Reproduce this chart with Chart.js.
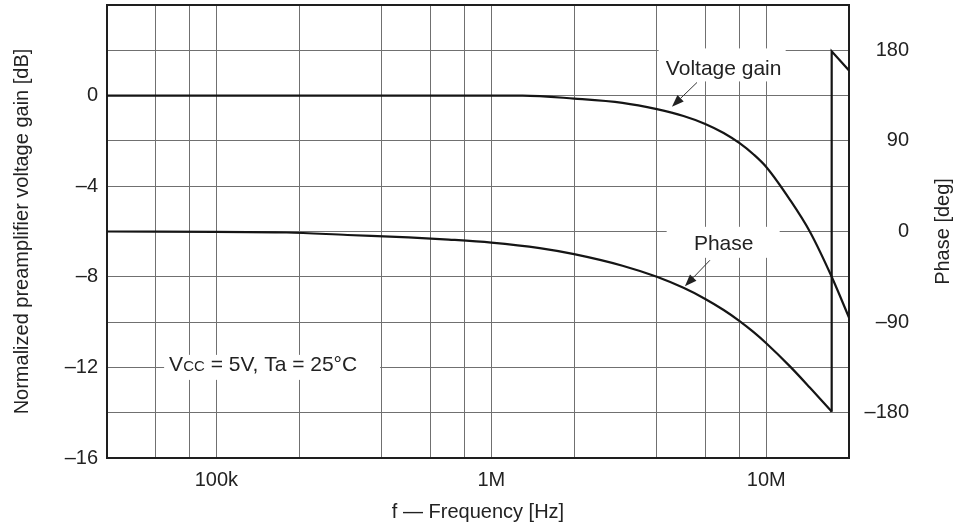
<!DOCTYPE html>
<html>
<head>
<meta charset="utf-8">
<script src="https://cdn.jsdelivr.net/npm/chart.js@4.4.1/dist/chart.umd.min.js"></script>
<style>
  html, body { margin: 0; padding: 0; background: #fff; }
  canvas { display: block; }
</style>
</head>
<body>
<canvas id="chart" width="960" height="530"></canvas>
<script>
// gain curve, normalized to the passband (dB)
const gainFreq = [4e4, 1.3e6, 2e6, 3e6, 4e6, 5e6, 6e6, 7e6, 8e6, 9e6, 1e7, 1.22e7, 1.44e7, 1.73e7, 2e7];
const gainDb   = [0, 0, -0.13, -0.32, -0.6, -0.9, -1.25, -1.65, -2.1, -2.6, -3.15, -4.6, -6.0, -8.0, -9.8];

// phase (deg), wraps from -180 to +180 near 17 MHz
const phaseFreq = [4e4, 1.8e5, 3e5, 5e5, 7e5, 1e6, 1.5e6, 2e6, 3e6, 4e6, 5e6, 6e6, 7e6, 8e6, 9e6, 1e7, 1.22e7, 1.44e7, 1.73e7];
const phaseDeg  = [0, -1, -3.5, -5.8, -8, -11, -16.5, -22.5, -34, -45, -56, -67, -78, -89, -100, -111, -134, -155, -179];
const wrapFreq  = [1.73e7, 1.73e7, 2e7];
const wrapDeg   = [-179, 179, 160];

// axes
const freqGrid   = [4e4, 6e4, 8e4, 1e5, 2e5, 4e5, 6e5, 8e5, 1e6, 2e6, 4e6, 6e6, 8e6, 1e7, 2e7];
const freqLabels = { 1e5: '100k', 1e6: '1M', 1e7: '10M' };
const gainGrid   = [4, 2, 0, -2, -4, -6, -8, -10, -12, -14, -16];
const gainLabels = [0, -4, -8, -12, -16];
const phaseTicks = [-180, -90, 0, 90, 180];

const FONT = '"Liberation Sans", Arial, Helvetica, sans-serif';
const INK = '#222';
const GRID = '#707070';

const dash = v => (v < 0 ? '\u2013' + Math.abs(v) : String(v));
const pts = (xs, ys) => xs.map((x, i) => ({ x, y: ys[i] }));

const callouts = [
  { text: 'Voltage gain', at: [7e6, 1.2], box: [-65, -20, 127, 33], tail: [5.6e6, 0.58], tip: [4.54e6, -0.49] },
  { text: 'Phase', at: [7e6, -6.5], box: [-57, -16, 113, 31], tail: [6.24e6, -7.27], tip: [5.06e6, -8.42] }
];

function arrow(ctx, x1, y1, x2, y2) {
  const a = Math.atan2(y2 - y1, x2 - x1);
  const len = 12, half = 4.5;
  const bx = x2 - len * Math.cos(a), by = y2 - len * Math.sin(a);
  ctx.beginPath();
  ctx.moveTo(x1, y1);
  ctx.lineTo(bx, by);
  ctx.stroke();
  ctx.beginPath();
  ctx.moveTo(x2, y2);
  ctx.lineTo(bx + half * Math.sin(a), by - half * Math.cos(a));
  ctx.lineTo(bx - half * Math.sin(a), by + half * Math.cos(a));
  ctx.closePath();
  ctx.fill();
}

const decorations = {
  id: 'decorations',
  beforeDatasetsDraw(chart) {
    const { ctx, chartArea: a, scales: { x, y } } = chart;
    ctx.save();

    // plot frame
    ctx.strokeStyle = '#1e1e1e';
    ctx.lineWidth = 2;
    ctx.strokeRect(a.left, a.top, a.right - a.left, a.bottom - a.top);

    // callouts with arrows
    ctx.font = '21px ' + FONT;
    ctx.textAlign = 'center';
    ctx.textBaseline = 'middle';
    callouts.forEach(c => {
      const cx = x.getPixelForValue(c.at[0]);
      const cy = y.getPixelForValue(c.at[1]);
      ctx.fillStyle = '#fff';
      ctx.fillRect(cx + c.box[0], cy + c.box[1], c.box[2], c.box[3]);
      ctx.fillStyle = INK;
      ctx.fillText(c.text, cx, cy + 1);
      ctx.strokeStyle = '#333';
      ctx.fillStyle = '#222';
      ctx.lineWidth = 1;
      arrow(ctx,
        x.getPixelForValue(c.tail[0]), y.getPixelForValue(c.tail[1]),
        x.getPixelForValue(c.tip[0]), y.getPixelForValue(c.tip[1]));
    });

    // operating conditions
    const lx = x.getPixelForValue(6.73e4);
    const ly = y.getPixelForValue(-11.8);
    ctx.fillStyle = '#fff';
    ctx.fillRect(lx - 5, ly - 8, 216, 25);
    ctx.fillStyle = INK;
    ctx.textAlign = 'left';
    ctx.textBaseline = 'alphabetic';
    let px = lx;
    const base = ly + 8;
    ctx.font = '21px ' + FONT;
    ctx.fillText('V', px, base);
    px += ctx.measureText('V').width;
    ctx.font = '15px ' + FONT;
    ctx.fillText('CC', px, base);
    px += ctx.measureText('CC').width;
    ctx.font = '21px ' + FONT;
    ctx.fillText(' = 5V, Ta = 25\u00B0C', px, base);

    ctx.restore();
  },
  afterDraw(chart) {
    const { ctx, chartArea: a } = chart;
    ctx.save();
    ctx.font = '20px ' + FONT;
    ctx.fillStyle = INK;
    ctx.textAlign = 'center';
    ctx.textBaseline = 'middle';
    ctx.translate(943, (a.top + a.bottom) / 2);
    ctx.rotate(-Math.PI / 2);
    ctx.fillText('Phase [deg]', 0, 0);
    ctx.restore();
  }
};

const line = {
  borderColor: '#151515',
  borderWidth: 2.2,
  pointRadius: 0,
  fill: false
};

new Chart(document.getElementById('chart'), {
  type: 'line',
  data: {
    datasets: [
      { ...line, label: 'Voltage gain', data: pts(gainFreq, gainDb), yAxisID: 'y', cubicInterpolationMode: 'monotone' },
      { ...line, label: 'Phase', data: pts(phaseFreq, phaseDeg), yAxisID: 'y1', cubicInterpolationMode: 'monotone' },
      { ...line, label: 'Phase wrap', data: pts(wrapFreq, wrapDeg), yAxisID: 'y1', tension: 0 }
    ]
  },
  options: {
    responsive: false,
    animation: false,
    devicePixelRatio: 1,
    layout: { padding: { left: 0, right: 51, top: 5, bottom: 0 } },
    plugins: { legend: { display: false }, tooltip: { enabled: false } },
    scales: {
      x: {
        type: 'logarithmic',
        min: 4e4,
        max: 2e7,
        afterBuildTicks: s => { s.ticks = freqGrid.map(v => ({ value: v })); },
        afterFit: s => { s.height = 72; s.paddingLeft = 0; s.paddingRight = 0; },
        grid: { color: GRID, lineWidth: 1, drawTicks: false },
        border: { display: false },
        ticks: {
          autoSkip: false,
          maxRotation: 0,
          padding: 10,
          color: INK,
          font: { family: FONT, size: 20 },
          callback: v => freqLabels[v] || ''
        },
        title: {
          display: true,
          text: 'f \u2014 Frequency [Hz]',
          color: INK,
          font: { family: FONT, size: 20 },
          padding: { top: 0, bottom: 6 }
        }
      },
      y: {
        type: 'linear',
        position: 'left',
        min: -16,
        max: 4,
        afterBuildTicks: s => { s.ticks = gainGrid.map(v => ({ value: v })); },
        afterFit: s => { s.width = 107; s.paddingTop = 0; s.paddingBottom = 0; },
        grid: { color: GRID, lineWidth: 1, drawTicks: false },
        border: { display: false },
        ticks: {
          padding: 9,
          color: INK,
          font: { family: FONT, size: 20 },
          callback: v => (gainLabels.includes(v) ? dash(v) : '')
        },
        title: {
          display: true,
          text: 'Normalized preamplifier voltage gain [dB]',
          color: INK,
          font: { family: FONT, size: 20 },
          padding: { top: 10, bottom: 0 }
        }
      },
      y1: {
        type: 'linear',
        position: 'right',
        min: -225,
        max: 225,
        afterBuildTicks: s => { s.ticks = phaseTicks.map(v => ({ value: v })); },
        afterFit: s => { s.width = 60; s.paddingTop = 0; s.paddingBottom = 0; },
        grid: { display: false, drawTicks: false },
        border: { display: false },
        ticks: {
          crossAlign: 'far',
          color: INK,
          font: { family: FONT, size: 20 },
          callback: v => dash(v)
        }
      }
    }
  },
  plugins: [decorations]
});
</script>
</body>
</html>
